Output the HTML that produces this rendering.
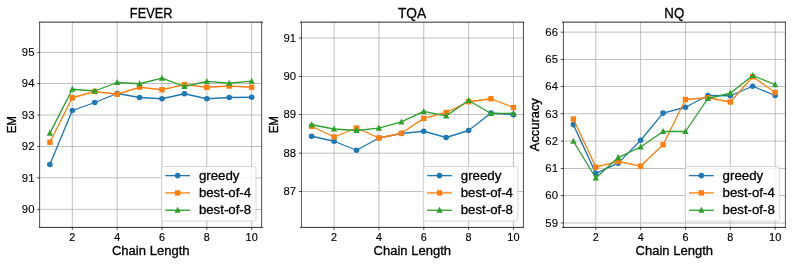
<!DOCTYPE html>
<html><head><meta charset="utf-8"><title>Chain Length plots</title>
<style>html,body{margin:0;padding:0;background:#fff;font-family:"Liberation Sans",sans-serif;overflow:hidden}svg{display:block;position:absolute;left:0;top:0;will-change:transform}</style>
</head><body>
<svg width="793" height="264" viewBox="0 0 793 264">
<rect width="793" height="264" fill="#fff"/>
<g>
<line x1="72.31" y1="22.1" x2="72.31" y2="227.3" stroke="#b0b0b0" stroke-width="0.8"/>
<line x1="117.15" y1="22.1" x2="117.15" y2="227.3" stroke="#b0b0b0" stroke-width="0.8"/>
<line x1="161.99" y1="22.1" x2="161.99" y2="227.3" stroke="#b0b0b0" stroke-width="0.8"/>
<line x1="206.83" y1="22.1" x2="206.83" y2="227.3" stroke="#b0b0b0" stroke-width="0.8"/>
<line x1="251.67" y1="22.1" x2="251.67" y2="227.3" stroke="#b0b0b0" stroke-width="0.8"/>
<line x1="39.74" y1="52.42" x2="261.74" y2="52.42" stroke="#b0b0b0" stroke-width="0.8"/>
<line x1="39.74" y1="83.5" x2="261.74" y2="83.5" stroke="#b0b0b0" stroke-width="0.8"/>
<line x1="39.74" y1="115" x2="261.74" y2="115" stroke="#b0b0b0" stroke-width="0.8"/>
<line x1="39.74" y1="146.5" x2="261.74" y2="146.5" stroke="#b0b0b0" stroke-width="0.8"/>
<line x1="39.74" y1="177.8" x2="261.74" y2="177.8" stroke="#b0b0b0" stroke-width="0.8"/>
<line x1="39.74" y1="209.42" x2="261.74" y2="209.42" stroke="#b0b0b0" stroke-width="0.8"/>
<line x1="72.31" y1="227.3" x2="72.31" y2="229.8" stroke="#000" stroke-width="0.7"/>
<text x="72.31" y="240.55" text-anchor="middle" font-family="Liberation Sans, sans-serif" font-size="10.9" textLength="6.0" lengthAdjust="spacingAndGlyphs" fill="#000" stroke="#000" stroke-width="0.16">2</text>
<line x1="117.15" y1="227.3" x2="117.15" y2="229.8" stroke="#000" stroke-width="0.7"/>
<text x="117.15" y="240.55" text-anchor="middle" font-family="Liberation Sans, sans-serif" font-size="10.9" textLength="6.0" lengthAdjust="spacingAndGlyphs" fill="#000" stroke="#000" stroke-width="0.16">4</text>
<line x1="161.99" y1="227.3" x2="161.99" y2="229.8" stroke="#000" stroke-width="0.7"/>
<text x="161.99" y="240.55" text-anchor="middle" font-family="Liberation Sans, sans-serif" font-size="10.9" textLength="6.0" lengthAdjust="spacingAndGlyphs" fill="#000" stroke="#000" stroke-width="0.16">6</text>
<line x1="206.83" y1="227.3" x2="206.83" y2="229.8" stroke="#000" stroke-width="0.7"/>
<text x="206.83" y="240.55" text-anchor="middle" font-family="Liberation Sans, sans-serif" font-size="10.9" textLength="6.0" lengthAdjust="spacingAndGlyphs" fill="#000" stroke="#000" stroke-width="0.16">8</text>
<line x1="251.67" y1="227.3" x2="251.67" y2="229.8" stroke="#000" stroke-width="0.7"/>
<text x="251.67" y="240.55" text-anchor="middle" font-family="Liberation Sans, sans-serif" font-size="10.9" textLength="12.2" lengthAdjust="spacingAndGlyphs" fill="#000" stroke="#000" stroke-width="0.16">10</text>
<line x1="37.24" y1="52.42" x2="39.74" y2="52.42" stroke="#000" stroke-width="0.7"/>
<text x="34.44" y="56.32" text-anchor="end" font-family="Liberation Sans, sans-serif" font-size="10.7" textLength="12.6" lengthAdjust="spacingAndGlyphs" fill="#000" stroke="#000" stroke-width="0.1">95</text>
<line x1="37.24" y1="83.5" x2="39.74" y2="83.5" stroke="#000" stroke-width="0.7"/>
<text x="34.44" y="87.4" text-anchor="end" font-family="Liberation Sans, sans-serif" font-size="10.7" textLength="12.6" lengthAdjust="spacingAndGlyphs" fill="#000" stroke="#000" stroke-width="0.1">94</text>
<line x1="37.24" y1="115" x2="39.74" y2="115" stroke="#000" stroke-width="0.7"/>
<text x="34.44" y="118.9" text-anchor="end" font-family="Liberation Sans, sans-serif" font-size="10.7" textLength="12.6" lengthAdjust="spacingAndGlyphs" fill="#000" stroke="#000" stroke-width="0.1">93</text>
<line x1="37.24" y1="146.5" x2="39.74" y2="146.5" stroke="#000" stroke-width="0.7"/>
<text x="34.44" y="150.4" text-anchor="end" font-family="Liberation Sans, sans-serif" font-size="10.7" textLength="12.6" lengthAdjust="spacingAndGlyphs" fill="#000" stroke="#000" stroke-width="0.1">92</text>
<line x1="37.24" y1="177.8" x2="39.74" y2="177.8" stroke="#000" stroke-width="0.7"/>
<text x="34.44" y="181.7" text-anchor="end" font-family="Liberation Sans, sans-serif" font-size="10.7" textLength="12.6" lengthAdjust="spacingAndGlyphs" fill="#000" stroke="#000" stroke-width="0.1">91</text>
<line x1="37.24" y1="209.42" x2="39.74" y2="209.42" stroke="#000" stroke-width="0.7"/>
<text x="34.44" y="213.32" text-anchor="end" font-family="Liberation Sans, sans-serif" font-size="10.7" textLength="12.6" lengthAdjust="spacingAndGlyphs" fill="#000" stroke="#000" stroke-width="0.1">90</text>
<polyline points="49.89,164.5 72.31,110.5 94.73,102.5 117.15,93.5 139.57,97.5 161.99,98.75 184.41,93.75 206.83,98.75 229.25,97.5 251.67,97.25" fill="none" stroke="#1f77b4" stroke-width="1.32" stroke-linejoin="round"/>
<circle cx="49.89" cy="164.5" r="2.8000000000000003" fill="#1f77b4"/>
<circle cx="72.31" cy="110.5" r="2.8000000000000003" fill="#1f77b4"/>
<circle cx="94.73" cy="102.5" r="2.8000000000000003" fill="#1f77b4"/>
<circle cx="117.15" cy="93.5" r="2.8000000000000003" fill="#1f77b4"/>
<circle cx="139.57" cy="97.5" r="2.8000000000000003" fill="#1f77b4"/>
<circle cx="161.99" cy="98.75" r="2.8000000000000003" fill="#1f77b4"/>
<circle cx="184.41" cy="93.75" r="2.8000000000000003" fill="#1f77b4"/>
<circle cx="206.83" cy="98.75" r="2.8000000000000003" fill="#1f77b4"/>
<circle cx="229.25" cy="97.5" r="2.8000000000000003" fill="#1f77b4"/>
<circle cx="251.67" cy="97.25" r="2.8000000000000003" fill="#1f77b4"/>
<polyline points="49.89,142.25 72.31,97.75 94.73,91.5 117.15,94.25 139.57,87.25 161.99,89.75 184.41,84.6 206.83,87.25 229.25,86 251.67,87.25" fill="none" stroke="#ff7f0e" stroke-width="1.32" stroke-linejoin="round"/>
<rect x="47.19" y="139.55" width="5.4" height="5.4" fill="#ff7f0e"/>
<rect x="69.61" y="95.05" width="5.4" height="5.4" fill="#ff7f0e"/>
<rect x="92.03" y="88.8" width="5.4" height="5.4" fill="#ff7f0e"/>
<rect x="114.45" y="91.55" width="5.4" height="5.4" fill="#ff7f0e"/>
<rect x="136.87" y="84.55" width="5.4" height="5.4" fill="#ff7f0e"/>
<rect x="159.29" y="87.05" width="5.4" height="5.4" fill="#ff7f0e"/>
<rect x="181.71" y="81.9" width="5.4" height="5.4" fill="#ff7f0e"/>
<rect x="204.13" y="84.55" width="5.4" height="5.4" fill="#ff7f0e"/>
<rect x="226.55" y="83.3" width="5.4" height="5.4" fill="#ff7f0e"/>
<rect x="248.97" y="84.55" width="5.4" height="5.4" fill="#ff7f0e"/>
<polyline points="49.89,133.1 72.31,89.25 94.73,91 117.15,82.5 139.57,83.75 161.99,78.2 184.41,86.5 206.83,81.45 229.25,83.25 251.67,81.2" fill="none" stroke="#2ca02c" stroke-width="1.32" stroke-linejoin="round"/>
<polygon points="49.89,129.6 46.79,135.7 52.99,135.7" fill="#2ca02c"/>
<polygon points="72.31,85.75 69.21,91.85 75.41,91.85" fill="#2ca02c"/>
<polygon points="94.73,87.5 91.63,93.6 97.83,93.6" fill="#2ca02c"/>
<polygon points="117.15,79 114.05,85.1 120.25,85.1" fill="#2ca02c"/>
<polygon points="139.57,80.25 136.47,86.35 142.67,86.35" fill="#2ca02c"/>
<polygon points="161.99,74.7 158.89,80.8 165.09,80.8" fill="#2ca02c"/>
<polygon points="184.41,83 181.31,89.1 187.51,89.1" fill="#2ca02c"/>
<polygon points="206.83,77.95 203.73,84.05 209.93,84.05" fill="#2ca02c"/>
<polygon points="229.25,79.75 226.15,85.85 232.35,85.85" fill="#2ca02c"/>
<polygon points="251.67,77.7 248.57,83.8 254.77,83.8" fill="#2ca02c"/>
<g shape-rendering="crispEdges">
<rect x="39" y="22" width="1" height="205" fill="#000" fill-opacity="0.61"/>
<rect x="40" y="22" width="1" height="205" fill="#000" fill-opacity="0.09"/>
<rect x="261" y="22" width="1" height="205" fill="#000" fill-opacity="0.6"/>
<rect x="262" y="22" width="1" height="205" fill="#000" fill-opacity="0.09"/>
<rect x="39" y="21" width="224" height="1" fill="#000" fill-opacity="0.31"/>
<rect x="39" y="22" width="224" height="1" fill="#000" fill-opacity="0.53"/>
<rect x="39" y="226" width="224" height="1" fill="#000" fill-opacity="0.09"/>
<rect x="39" y="227" width="224" height="1" fill="#000" fill-opacity="0.73"/>
</g>
<rect x="161.5" y="166.5" width="94.5" height="54.55000000000001" rx="2.4" ry="2.4" fill="#fff" fill-opacity="0.8" stroke="#ccc" stroke-opacity="0.8" stroke-width="1"/>
<line x1="165.25" y1="175.62" x2="190" y2="175.62" stroke="#1f77b4" stroke-width="1.32"/>
<circle cx="177.65" cy="175.62" r="2.8000000000000003" fill="#1f77b4"/>
<text x="198.9" y="179.75" font-family="Liberation Sans, sans-serif" font-size="12.9" textLength="40.6" lengthAdjust="spacingAndGlyphs" fill="#000" stroke="#000" stroke-width="0.3">greedy</text>
<line x1="165.25" y1="192.92" x2="190" y2="192.92" stroke="#ff7f0e" stroke-width="1.32"/>
<rect x="174.95" y="190.22" width="5.4" height="5.4" fill="#ff7f0e"/>
<text x="198.9" y="196.75" font-family="Liberation Sans, sans-serif" font-size="12.9" textLength="52.2" lengthAdjust="spacingAndGlyphs" fill="#000" stroke="#000" stroke-width="0.3">best-of-4</text>
<line x1="165.25" y1="210.25" x2="190" y2="210.25" stroke="#2ca02c" stroke-width="1.32"/>
<polygon points="177.65,206.75 174.55,212.85 180.75,212.85" fill="#2ca02c"/>
<text x="198.9" y="214.35" font-family="Liberation Sans, sans-serif" font-size="12.9" textLength="52.2" lengthAdjust="spacingAndGlyphs" fill="#000" stroke="#000" stroke-width="0.3">best-of-8</text>
<text x="151.14" y="17.9" text-anchor="middle" font-family="Liberation Sans, sans-serif" font-size="14.2" textLength="42.6" lengthAdjust="spacingAndGlyphs" fill="#000" stroke="#000" stroke-width="0.3">FEVER</text>
<text x="150.74" y="255" text-anchor="middle" font-family="Liberation Sans, sans-serif" font-size="12.5" textLength="77.6" lengthAdjust="spacingAndGlyphs" fill="#000" stroke="#000" stroke-width="0.3">Chain Length</text>
<text transform="translate(15.9,124.7) rotate(-90)" text-anchor="middle" font-family="Liberation Sans, sans-serif" font-size="12.5" textLength="17.3" lengthAdjust="spacingAndGlyphs" fill="#000" stroke="#000" stroke-width="0.35">EM</text>
</g>
<g>
<line x1="334.07" y1="22.1" x2="334.07" y2="227.3" stroke="#b0b0b0" stroke-width="0.8"/>
<line x1="378.91" y1="22.1" x2="378.91" y2="227.3" stroke="#b0b0b0" stroke-width="0.8"/>
<line x1="423.75" y1="22.1" x2="423.75" y2="227.3" stroke="#b0b0b0" stroke-width="0.8"/>
<line x1="468.59" y1="22.1" x2="468.59" y2="227.3" stroke="#b0b0b0" stroke-width="0.8"/>
<line x1="513.43" y1="22.1" x2="513.43" y2="227.3" stroke="#b0b0b0" stroke-width="0.8"/>
<line x1="301.3" y1="38" x2="523.32" y2="38" stroke="#b0b0b0" stroke-width="0.8"/>
<line x1="301.3" y1="76.5" x2="523.32" y2="76.5" stroke="#b0b0b0" stroke-width="0.8"/>
<line x1="301.3" y1="114.5" x2="523.32" y2="114.5" stroke="#b0b0b0" stroke-width="0.8"/>
<line x1="301.3" y1="153.2" x2="523.32" y2="153.2" stroke="#b0b0b0" stroke-width="0.8"/>
<line x1="301.3" y1="191.5" x2="523.32" y2="191.5" stroke="#b0b0b0" stroke-width="0.8"/>
<line x1="334.07" y1="227.3" x2="334.07" y2="229.8" stroke="#000" stroke-width="0.7"/>
<text x="334.07" y="240.55" text-anchor="middle" font-family="Liberation Sans, sans-serif" font-size="10.9" textLength="6.0" lengthAdjust="spacingAndGlyphs" fill="#000" stroke="#000" stroke-width="0.16">2</text>
<line x1="378.91" y1="227.3" x2="378.91" y2="229.8" stroke="#000" stroke-width="0.7"/>
<text x="378.91" y="240.55" text-anchor="middle" font-family="Liberation Sans, sans-serif" font-size="10.9" textLength="6.0" lengthAdjust="spacingAndGlyphs" fill="#000" stroke="#000" stroke-width="0.16">4</text>
<line x1="423.75" y1="227.3" x2="423.75" y2="229.8" stroke="#000" stroke-width="0.7"/>
<text x="423.75" y="240.55" text-anchor="middle" font-family="Liberation Sans, sans-serif" font-size="10.9" textLength="6.0" lengthAdjust="spacingAndGlyphs" fill="#000" stroke="#000" stroke-width="0.16">6</text>
<line x1="468.59" y1="227.3" x2="468.59" y2="229.8" stroke="#000" stroke-width="0.7"/>
<text x="468.59" y="240.55" text-anchor="middle" font-family="Liberation Sans, sans-serif" font-size="10.9" textLength="6.0" lengthAdjust="spacingAndGlyphs" fill="#000" stroke="#000" stroke-width="0.16">8</text>
<line x1="513.43" y1="227.3" x2="513.43" y2="229.8" stroke="#000" stroke-width="0.7"/>
<text x="513.43" y="240.55" text-anchor="middle" font-family="Liberation Sans, sans-serif" font-size="10.9" textLength="12.2" lengthAdjust="spacingAndGlyphs" fill="#000" stroke="#000" stroke-width="0.16">10</text>
<line x1="298.8" y1="38" x2="301.3" y2="38" stroke="#000" stroke-width="0.7"/>
<text x="296" y="41.9" text-anchor="end" font-family="Liberation Sans, sans-serif" font-size="10.7" textLength="12.6" lengthAdjust="spacingAndGlyphs" fill="#000" stroke="#000" stroke-width="0.1">91</text>
<line x1="298.8" y1="76.5" x2="301.3" y2="76.5" stroke="#000" stroke-width="0.7"/>
<text x="296" y="80.4" text-anchor="end" font-family="Liberation Sans, sans-serif" font-size="10.7" textLength="12.6" lengthAdjust="spacingAndGlyphs" fill="#000" stroke="#000" stroke-width="0.1">90</text>
<line x1="298.8" y1="114.5" x2="301.3" y2="114.5" stroke="#000" stroke-width="0.7"/>
<text x="296" y="118.4" text-anchor="end" font-family="Liberation Sans, sans-serif" font-size="10.7" textLength="12.6" lengthAdjust="spacingAndGlyphs" fill="#000" stroke="#000" stroke-width="0.1">89</text>
<line x1="298.8" y1="153.2" x2="301.3" y2="153.2" stroke="#000" stroke-width="0.7"/>
<text x="296" y="157.1" text-anchor="end" font-family="Liberation Sans, sans-serif" font-size="10.7" textLength="12.6" lengthAdjust="spacingAndGlyphs" fill="#000" stroke="#000" stroke-width="0.1">88</text>
<line x1="298.8" y1="191.5" x2="301.3" y2="191.5" stroke="#000" stroke-width="0.7"/>
<text x="296" y="195.4" text-anchor="end" font-family="Liberation Sans, sans-serif" font-size="10.7" textLength="12.6" lengthAdjust="spacingAndGlyphs" fill="#000" stroke="#000" stroke-width="0.1">87</text>
<polyline points="311.65,136.25 334.07,141.25 356.49,150.25 378.91,138 401.33,133.5 423.75,131.25 446.17,137.5 468.59,130.5 491.01,113 513.43,114.7" fill="none" stroke="#1f77b4" stroke-width="1.32" stroke-linejoin="round"/>
<circle cx="311.65" cy="136.25" r="2.8000000000000003" fill="#1f77b4"/>
<circle cx="334.07" cy="141.25" r="2.8000000000000003" fill="#1f77b4"/>
<circle cx="356.49" cy="150.25" r="2.8000000000000003" fill="#1f77b4"/>
<circle cx="378.91" cy="138" r="2.8000000000000003" fill="#1f77b4"/>
<circle cx="401.33" cy="133.5" r="2.8000000000000003" fill="#1f77b4"/>
<circle cx="423.75" cy="131.25" r="2.8000000000000003" fill="#1f77b4"/>
<circle cx="446.17" cy="137.5" r="2.8000000000000003" fill="#1f77b4"/>
<circle cx="468.59" cy="130.5" r="2.8000000000000003" fill="#1f77b4"/>
<circle cx="491.01" cy="113" r="2.8000000000000003" fill="#1f77b4"/>
<circle cx="513.43" cy="114.7" r="2.8000000000000003" fill="#1f77b4"/>
<polyline points="311.65,126.25 334.07,137 356.49,128 378.91,138 401.33,133.25 423.75,118.4 446.17,112.5 468.59,101.75 491.01,98.75 513.43,107.5" fill="none" stroke="#ff7f0e" stroke-width="1.32" stroke-linejoin="round"/>
<rect x="308.95" y="123.55" width="5.4" height="5.4" fill="#ff7f0e"/>
<rect x="331.37" y="134.3" width="5.4" height="5.4" fill="#ff7f0e"/>
<rect x="353.79" y="125.3" width="5.4" height="5.4" fill="#ff7f0e"/>
<rect x="376.21" y="135.3" width="5.4" height="5.4" fill="#ff7f0e"/>
<rect x="398.63" y="130.55" width="5.4" height="5.4" fill="#ff7f0e"/>
<rect x="421.05" y="115.7" width="5.4" height="5.4" fill="#ff7f0e"/>
<rect x="443.47" y="109.8" width="5.4" height="5.4" fill="#ff7f0e"/>
<rect x="465.89" y="99.05" width="5.4" height="5.4" fill="#ff7f0e"/>
<rect x="488.31" y="96.05" width="5.4" height="5.4" fill="#ff7f0e"/>
<rect x="510.73" y="104.8" width="5.4" height="5.4" fill="#ff7f0e"/>
<polyline points="311.65,124.75 334.07,129 356.49,130.5 378.91,128.1 401.33,121.9 423.75,111.4 446.17,115.9 468.59,100.5 491.01,113.5 513.43,113.25" fill="none" stroke="#2ca02c" stroke-width="1.32" stroke-linejoin="round"/>
<polygon points="311.65,121.25 308.55,127.35 314.75,127.35" fill="#2ca02c"/>
<polygon points="334.07,125.5 330.97,131.6 337.17,131.6" fill="#2ca02c"/>
<polygon points="356.49,127 353.39,133.1 359.59,133.1" fill="#2ca02c"/>
<polygon points="378.91,124.6 375.81,130.7 382.01,130.7" fill="#2ca02c"/>
<polygon points="401.33,118.4 398.23,124.5 404.43,124.5" fill="#2ca02c"/>
<polygon points="423.75,107.9 420.65,114 426.85,114" fill="#2ca02c"/>
<polygon points="446.17,112.4 443.07,118.5 449.27,118.5" fill="#2ca02c"/>
<polygon points="468.59,97 465.49,103.1 471.69,103.1" fill="#2ca02c"/>
<polygon points="491.01,110 487.91,116.1 494.11,116.1" fill="#2ca02c"/>
<polygon points="513.43,109.75 510.33,115.85 516.53,115.85" fill="#2ca02c"/>
<g shape-rendering="crispEdges">
<rect x="300" y="22" width="1" height="205" fill="#000" fill-opacity="0.04"/>
<rect x="301" y="22" width="1" height="205" fill="#000" fill-opacity="0.63"/>
<rect x="522" y="22" width="1" height="205" fill="#000" fill-opacity="0.04"/>
<rect x="523" y="22" width="1" height="205" fill="#000" fill-opacity="0.665"/>
<rect x="300" y="21" width="224" height="1" fill="#000" fill-opacity="0.31"/>
<rect x="300" y="22" width="224" height="1" fill="#000" fill-opacity="0.53"/>
<rect x="300" y="226" width="224" height="1" fill="#000" fill-opacity="0.09"/>
<rect x="300" y="227" width="224" height="1" fill="#000" fill-opacity="0.73"/>
</g>
<rect x="423.35" y="166.5" width="94.5" height="54.55000000000001" rx="2.4" ry="2.4" fill="#fff" fill-opacity="0.8" stroke="#ccc" stroke-opacity="0.8" stroke-width="1"/>
<line x1="427.1" y1="175.62" x2="451.85" y2="175.62" stroke="#1f77b4" stroke-width="1.32"/>
<circle cx="439.5" cy="175.62" r="2.8000000000000003" fill="#1f77b4"/>
<text x="460.75" y="179.75" font-family="Liberation Sans, sans-serif" font-size="12.9" textLength="40.6" lengthAdjust="spacingAndGlyphs" fill="#000" stroke="#000" stroke-width="0.3">greedy</text>
<line x1="427.1" y1="192.92" x2="451.85" y2="192.92" stroke="#ff7f0e" stroke-width="1.32"/>
<rect x="436.8" y="190.22" width="5.4" height="5.4" fill="#ff7f0e"/>
<text x="460.75" y="196.75" font-family="Liberation Sans, sans-serif" font-size="12.9" textLength="52.2" lengthAdjust="spacingAndGlyphs" fill="#000" stroke="#000" stroke-width="0.3">best-of-4</text>
<line x1="427.1" y1="210.25" x2="451.85" y2="210.25" stroke="#2ca02c" stroke-width="1.32"/>
<polygon points="439.5,206.75 436.4,212.85 442.6,212.85" fill="#2ca02c"/>
<text x="460.75" y="214.35" font-family="Liberation Sans, sans-serif" font-size="12.9" textLength="52.2" lengthAdjust="spacingAndGlyphs" fill="#000" stroke="#000" stroke-width="0.3">best-of-8</text>
<text x="412.01" y="17.9" text-anchor="middle" font-family="Liberation Sans, sans-serif" font-size="14.2" textLength="28.2" lengthAdjust="spacingAndGlyphs" fill="#000" stroke="#000" stroke-width="0.3">TQA</text>
<text x="412.31" y="255" text-anchor="middle" font-family="Liberation Sans, sans-serif" font-size="12.5" textLength="77.6" lengthAdjust="spacingAndGlyphs" fill="#000" stroke="#000" stroke-width="0.3">Chain Length</text>
<text transform="translate(277.75,124.7) rotate(-90)" text-anchor="middle" font-family="Liberation Sans, sans-serif" font-size="12.5" textLength="17.3" lengthAdjust="spacingAndGlyphs" fill="#000" stroke="#000" stroke-width="0.35">EM</text>
</g>
<g>
<line x1="595.79" y1="22.1" x2="595.79" y2="227.3" stroke="#b0b0b0" stroke-width="0.8"/>
<line x1="640.63" y1="22.1" x2="640.63" y2="227.3" stroke="#b0b0b0" stroke-width="0.8"/>
<line x1="685.47" y1="22.1" x2="685.47" y2="227.3" stroke="#b0b0b0" stroke-width="0.8"/>
<line x1="730.31" y1="22.1" x2="730.31" y2="227.3" stroke="#b0b0b0" stroke-width="0.8"/>
<line x1="775.15" y1="22.1" x2="775.15" y2="227.3" stroke="#b0b0b0" stroke-width="0.8"/>
<line x1="563.27" y1="32.15" x2="785.28" y2="32.15" stroke="#b0b0b0" stroke-width="0.8"/>
<line x1="563.27" y1="59.5" x2="785.28" y2="59.5" stroke="#b0b0b0" stroke-width="0.8"/>
<line x1="563.27" y1="86.5" x2="785.28" y2="86.5" stroke="#b0b0b0" stroke-width="0.8"/>
<line x1="563.27" y1="113.7" x2="785.28" y2="113.7" stroke="#b0b0b0" stroke-width="0.8"/>
<line x1="563.27" y1="141.1" x2="785.28" y2="141.1" stroke="#b0b0b0" stroke-width="0.8"/>
<line x1="563.27" y1="168.5" x2="785.28" y2="168.5" stroke="#b0b0b0" stroke-width="0.8"/>
<line x1="563.27" y1="195.55" x2="785.28" y2="195.55" stroke="#b0b0b0" stroke-width="0.8"/>
<line x1="563.27" y1="223" x2="785.28" y2="223" stroke="#b0b0b0" stroke-width="0.8"/>
<line x1="595.79" y1="227.3" x2="595.79" y2="229.8" stroke="#000" stroke-width="0.7"/>
<text x="595.79" y="240.55" text-anchor="middle" font-family="Liberation Sans, sans-serif" font-size="10.9" textLength="6.0" lengthAdjust="spacingAndGlyphs" fill="#000" stroke="#000" stroke-width="0.16">2</text>
<line x1="640.63" y1="227.3" x2="640.63" y2="229.8" stroke="#000" stroke-width="0.7"/>
<text x="640.63" y="240.55" text-anchor="middle" font-family="Liberation Sans, sans-serif" font-size="10.9" textLength="6.0" lengthAdjust="spacingAndGlyphs" fill="#000" stroke="#000" stroke-width="0.16">4</text>
<line x1="685.47" y1="227.3" x2="685.47" y2="229.8" stroke="#000" stroke-width="0.7"/>
<text x="685.47" y="240.55" text-anchor="middle" font-family="Liberation Sans, sans-serif" font-size="10.9" textLength="6.0" lengthAdjust="spacingAndGlyphs" fill="#000" stroke="#000" stroke-width="0.16">6</text>
<line x1="730.31" y1="227.3" x2="730.31" y2="229.8" stroke="#000" stroke-width="0.7"/>
<text x="730.31" y="240.55" text-anchor="middle" font-family="Liberation Sans, sans-serif" font-size="10.9" textLength="6.0" lengthAdjust="spacingAndGlyphs" fill="#000" stroke="#000" stroke-width="0.16">8</text>
<line x1="775.15" y1="227.3" x2="775.15" y2="229.8" stroke="#000" stroke-width="0.7"/>
<text x="775.15" y="240.55" text-anchor="middle" font-family="Liberation Sans, sans-serif" font-size="10.9" textLength="12.2" lengthAdjust="spacingAndGlyphs" fill="#000" stroke="#000" stroke-width="0.16">10</text>
<line x1="560.77" y1="32.15" x2="563.27" y2="32.15" stroke="#000" stroke-width="0.7"/>
<text x="557.97" y="36.05" text-anchor="end" font-family="Liberation Sans, sans-serif" font-size="10.7" textLength="12.6" lengthAdjust="spacingAndGlyphs" fill="#000" stroke="#000" stroke-width="0.1">66</text>
<line x1="560.77" y1="59.5" x2="563.27" y2="59.5" stroke="#000" stroke-width="0.7"/>
<text x="557.97" y="63.4" text-anchor="end" font-family="Liberation Sans, sans-serif" font-size="10.7" textLength="12.6" lengthAdjust="spacingAndGlyphs" fill="#000" stroke="#000" stroke-width="0.1">65</text>
<line x1="560.77" y1="86.5" x2="563.27" y2="86.5" stroke="#000" stroke-width="0.7"/>
<text x="557.97" y="90.4" text-anchor="end" font-family="Liberation Sans, sans-serif" font-size="10.7" textLength="12.6" lengthAdjust="spacingAndGlyphs" fill="#000" stroke="#000" stroke-width="0.1">64</text>
<line x1="560.77" y1="113.7" x2="563.27" y2="113.7" stroke="#000" stroke-width="0.7"/>
<text x="557.97" y="117.6" text-anchor="end" font-family="Liberation Sans, sans-serif" font-size="10.7" textLength="12.6" lengthAdjust="spacingAndGlyphs" fill="#000" stroke="#000" stroke-width="0.1">63</text>
<line x1="560.77" y1="141.1" x2="563.27" y2="141.1" stroke="#000" stroke-width="0.7"/>
<text x="557.97" y="145" text-anchor="end" font-family="Liberation Sans, sans-serif" font-size="10.7" textLength="12.6" lengthAdjust="spacingAndGlyphs" fill="#000" stroke="#000" stroke-width="0.1">62</text>
<line x1="560.77" y1="168.5" x2="563.27" y2="168.5" stroke="#000" stroke-width="0.7"/>
<text x="557.97" y="172.4" text-anchor="end" font-family="Liberation Sans, sans-serif" font-size="10.7" textLength="12.6" lengthAdjust="spacingAndGlyphs" fill="#000" stroke="#000" stroke-width="0.1">61</text>
<line x1="560.77" y1="195.55" x2="563.27" y2="195.55" stroke="#000" stroke-width="0.7"/>
<text x="557.97" y="199.45" text-anchor="end" font-family="Liberation Sans, sans-serif" font-size="10.7" textLength="12.6" lengthAdjust="spacingAndGlyphs" fill="#000" stroke="#000" stroke-width="0.1">60</text>
<line x1="560.77" y1="223" x2="563.27" y2="223" stroke="#000" stroke-width="0.7"/>
<text x="557.97" y="226.9" text-anchor="end" font-family="Liberation Sans, sans-serif" font-size="10.7" textLength="12.6" lengthAdjust="spacingAndGlyphs" fill="#000" stroke="#000" stroke-width="0.1">59</text>
<polyline points="573.37,124.6 595.79,173.4 618.21,163.1 640.63,140.25 663.05,113.1 685.47,107.25 707.89,95.5 730.31,95.75 752.73,86.25 775.15,95.5" fill="none" stroke="#1f77b4" stroke-width="1.32" stroke-linejoin="round"/>
<circle cx="573.37" cy="124.6" r="2.8000000000000003" fill="#1f77b4"/>
<circle cx="595.79" cy="173.4" r="2.8000000000000003" fill="#1f77b4"/>
<circle cx="618.21" cy="163.1" r="2.8000000000000003" fill="#1f77b4"/>
<circle cx="640.63" cy="140.25" r="2.8000000000000003" fill="#1f77b4"/>
<circle cx="663.05" cy="113.1" r="2.8000000000000003" fill="#1f77b4"/>
<circle cx="685.47" cy="107.25" r="2.8000000000000003" fill="#1f77b4"/>
<circle cx="707.89" cy="95.5" r="2.8000000000000003" fill="#1f77b4"/>
<circle cx="730.31" cy="95.75" r="2.8000000000000003" fill="#1f77b4"/>
<circle cx="752.73" cy="86.25" r="2.8000000000000003" fill="#1f77b4"/>
<circle cx="775.15" cy="95.5" r="2.8000000000000003" fill="#1f77b4"/>
<polyline points="573.37,119 595.79,167.15 618.21,161.5 640.63,166.1 663.05,144.75 685.47,99.5 707.89,97.75 730.31,102 752.73,76.75 775.15,92.5" fill="none" stroke="#ff7f0e" stroke-width="1.32" stroke-linejoin="round"/>
<rect x="570.67" y="116.3" width="5.4" height="5.4" fill="#ff7f0e"/>
<rect x="593.09" y="164.45" width="5.4" height="5.4" fill="#ff7f0e"/>
<rect x="615.51" y="158.8" width="5.4" height="5.4" fill="#ff7f0e"/>
<rect x="637.93" y="163.4" width="5.4" height="5.4" fill="#ff7f0e"/>
<rect x="660.35" y="142.05" width="5.4" height="5.4" fill="#ff7f0e"/>
<rect x="682.77" y="96.8" width="5.4" height="5.4" fill="#ff7f0e"/>
<rect x="705.19" y="95.05" width="5.4" height="5.4" fill="#ff7f0e"/>
<rect x="727.61" y="99.3" width="5.4" height="5.4" fill="#ff7f0e"/>
<rect x="750.03" y="74.05" width="5.4" height="5.4" fill="#ff7f0e"/>
<rect x="772.45" y="89.8" width="5.4" height="5.4" fill="#ff7f0e"/>
<polyline points="573.37,141.25 595.79,178 618.21,157.6 640.63,147 663.05,131.5 685.47,131.5 707.89,98.5 730.31,93.25 752.73,75.5 775.15,84.75" fill="none" stroke="#2ca02c" stroke-width="1.32" stroke-linejoin="round"/>
<polygon points="573.37,137.75 570.27,143.85 576.47,143.85" fill="#2ca02c"/>
<polygon points="595.79,174.5 592.69,180.6 598.89,180.6" fill="#2ca02c"/>
<polygon points="618.21,154.1 615.11,160.2 621.31,160.2" fill="#2ca02c"/>
<polygon points="640.63,143.5 637.53,149.6 643.73,149.6" fill="#2ca02c"/>
<polygon points="663.05,128 659.95,134.1 666.15,134.1" fill="#2ca02c"/>
<polygon points="685.47,128 682.37,134.1 688.57,134.1" fill="#2ca02c"/>
<polygon points="707.89,95 704.79,101.1 710.99,101.1" fill="#2ca02c"/>
<polygon points="730.31,89.75 727.21,95.85 733.41,95.85" fill="#2ca02c"/>
<polygon points="752.73,72 749.63,78.1 755.83,78.1" fill="#2ca02c"/>
<polygon points="775.15,81.25 772.05,87.35 778.25,87.35" fill="#2ca02c"/>
<g shape-rendering="crispEdges">
<rect x="562" y="22" width="1" height="205" fill="#000" fill-opacity="0.075"/>
<rect x="563" y="22" width="1" height="205" fill="#000" fill-opacity="0.61"/>
<rect x="784" y="22" width="1" height="205" fill="#000" fill-opacity="0.065"/>
<rect x="785" y="22" width="1" height="205" fill="#000" fill-opacity="0.625"/>
<rect x="562" y="21" width="224" height="1" fill="#000" fill-opacity="0.31"/>
<rect x="562" y="22" width="224" height="1" fill="#000" fill-opacity="0.53"/>
<rect x="562" y="226" width="224" height="1" fill="#000" fill-opacity="0.09"/>
<rect x="562" y="227" width="224" height="1" fill="#000" fill-opacity="0.73"/>
</g>
<rect x="685.2" y="166.5" width="94.5" height="54.55000000000001" rx="2.4" ry="2.4" fill="#fff" fill-opacity="0.8" stroke="#ccc" stroke-opacity="0.8" stroke-width="1"/>
<line x1="688.95" y1="175.62" x2="713.7" y2="175.62" stroke="#1f77b4" stroke-width="1.32"/>
<circle cx="701.35" cy="175.62" r="2.8000000000000003" fill="#1f77b4"/>
<text x="722.6" y="179.75" font-family="Liberation Sans, sans-serif" font-size="12.9" textLength="40.6" lengthAdjust="spacingAndGlyphs" fill="#000" stroke="#000" stroke-width="0.3">greedy</text>
<line x1="688.95" y1="192.92" x2="713.7" y2="192.92" stroke="#ff7f0e" stroke-width="1.32"/>
<rect x="698.65" y="190.22" width="5.4" height="5.4" fill="#ff7f0e"/>
<text x="722.6" y="196.75" font-family="Liberation Sans, sans-serif" font-size="12.9" textLength="52.2" lengthAdjust="spacingAndGlyphs" fill="#000" stroke="#000" stroke-width="0.3">best-of-4</text>
<line x1="688.95" y1="210.25" x2="713.7" y2="210.25" stroke="#2ca02c" stroke-width="1.32"/>
<polygon points="701.35,206.75 698.25,212.85 704.45,212.85" fill="#2ca02c"/>
<text x="722.6" y="214.35" font-family="Liberation Sans, sans-serif" font-size="12.9" textLength="52.2" lengthAdjust="spacingAndGlyphs" fill="#000" stroke="#000" stroke-width="0.3">best-of-8</text>
<text x="674.27" y="17.9" text-anchor="middle" font-family="Liberation Sans, sans-serif" font-size="14.2" textLength="19.9" lengthAdjust="spacingAndGlyphs" fill="#000" stroke="#000" stroke-width="0.3">NQ</text>
<text x="674.27" y="255" text-anchor="middle" font-family="Liberation Sans, sans-serif" font-size="12.5" textLength="77.6" lengthAdjust="spacingAndGlyphs" fill="#000" stroke="#000" stroke-width="0.3">Chain Length</text>
<text transform="translate(539.1,124.7) rotate(-90)" text-anchor="middle" font-family="Liberation Sans, sans-serif" font-size="12.5" textLength="53.0" lengthAdjust="spacingAndGlyphs" fill="#000" stroke="#000" stroke-width="0.35">Accuracy</text>
</g>
</svg>
</body></html>
